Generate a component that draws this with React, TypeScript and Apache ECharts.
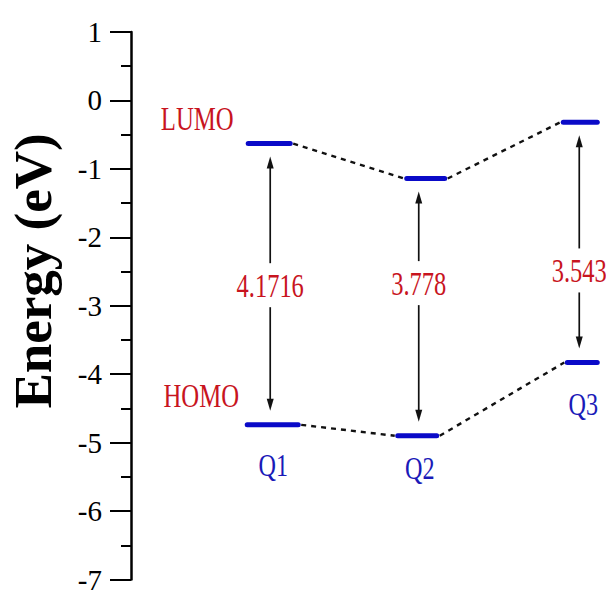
import React, { useEffect, useRef } from "react";
import * as echarts from "echarts";

// ---- data ----
const molecules = ["Q1", "Q2", "Q3"];
const lumoEnergies = [-0.63, -1.14, -0.32];
const homoEnergies = [-4.74, -4.9, -3.83];
const gapLabels = ["4.1716", "3.778", "3.543"];
const levelNames = ["LUMO", "HOMO"];
const yTicks = { min: -7, max: 1, interval: 1 };

// ---- layout (px offsets relative to each molecule's axis position) ----
const lumoSpan = [[-20, 22], [-16, 22], [-14, 20]];
const homoSpan = [[-21, 30], [-25, 14], [-10, 20]];
const arrowDx = [2, -4, 2];
const gapLabelDy = [1, -24, 28];
const nameDx = [5, -3, 6];
const nameDy = [41, 33, 42];

const RED = "#c8141e";
const BLUE = "#0a0ac8";
const LABEL_BLUE = "#1a1ab8";
const SERIF = '"Liberation Serif", "Times New Roman", serif';

export default function App() {
  const ref = useRef<HTMLDivElement>(null);

  useEffect(() => {
    const chart = echarts.init(ref.current!, null, { renderer: "svg" });

    const seriesData = molecules.map((_, i) => [i + 1, lumoEnergies[i], homoEnergies[i]]);

    const renderItem = (params: any, api: any) => {
      const i = params.dataIndex;
      const x = api.value(0);
      const lumo = api.value(1);
      const homo = api.value(2);
      const pL = api.coord([x, lumo]);
      const pH = api.coord([x, homo]);
      const cx = pL[0];
      const children: any[] = [];

      // dashed connectors to the next molecule
      if (i < molecules.length - 1) {
        const nL = api.coord([x + 1, lumoEnergies[i + 1]]);
        const nH = api.coord([x + 1, homoEnergies[i + 1]]);
        children.push({
          type: "line",
          shape: { x1: cx + lumoSpan[i][1] + 3, y1: pL[1], x2: nL[0] + lumoSpan[i + 1][0] - 3, y2: nL[1] },
          style: { stroke: "#111", lineWidth: 2.4, lineDash: [5, 5] },
        });
        children.push({
          type: "line",
          shape: { x1: cx + homoSpan[i][1] + 3, y1: pH[1], x2: nH[0] + homoSpan[i + 1][0] - 3, y2: nH[1] },
          style: { stroke: "#111", lineWidth: 2.4, lineDash: [5, 5] },
        });
      }

      // energy levels
      children.push({
        type: "line",
        shape: { x1: cx + lumoSpan[i][0], y1: pL[1], x2: cx + lumoSpan[i][1], y2: pL[1] },
        style: { stroke: BLUE, lineWidth: 5, lineCap: "round" },
      });
      children.push({
        type: "line",
        shape: { x1: cx + homoSpan[i][0], y1: pH[1], x2: cx + homoSpan[i][1], y2: pH[1] },
        style: { stroke: BLUE, lineWidth: 5, lineCap: "round" },
      });

      // gap arrow
      const ax = cx + arrowDx[i];
      const top = pL[1] + 13;
      const bottom = pH[1] - 14;
      const ly = (pL[1] + pH[1]) / 2 + gapLabelDy[i];
      const head = 12;
      const hw = 3.5;
      children.push({
        type: "line",
        shape: { x1: ax, y1: top + head - 2, x2: ax, y2: ly - 22 },
        style: { stroke: "#111", lineWidth: 1.7 },
      });
      children.push({
        type: "line",
        shape: { x1: ax, y1: ly + 22, x2: ax, y2: bottom - head + 2 },
        style: { stroke: "#111", lineWidth: 1.7 },
      });
      children.push({
        type: "polygon",
        shape: { points: [[ax, top], [ax - hw, top + head], [ax + hw, top + head]] },
        style: { fill: "#111" },
      });
      children.push({
        type: "polygon",
        shape: { points: [[ax, bottom], [ax - hw, bottom - head], [ax + hw, bottom - head]] },
        style: { fill: "#111" },
      });
      children.push({
        type: "text",
        x: ax,
        y: ly,
        scaleX: 0.72,
        style: {
          text: gapLabels[i],
          fill: RED,
          font: `34px ${SERIF}`,
          textAlign: "center",
          textVerticalAlign: "middle",
        },
      });

      // molecule name
      children.push({
        type: "text",
        x: cx + nameDx[i],
        y: pH[1] + nameDy[i],
        scaleX: 0.78,
        style: {
          text: molecules[i],
          fill: LABEL_BLUE,
          font: `31px ${SERIF}`,
          textAlign: "center",
          textVerticalAlign: "middle",
        },
      });

      // LUMO / HOMO labels beside the first molecule
      if (i === 0) {
        children.push({
          type: "text",
          x: cx - 71,
          y: pL[1] - 25,
          scaleX: 0.75,
          style: { text: levelNames[0], fill: RED, font: `33px ${SERIF}`, textAlign: "center", textVerticalAlign: "middle" },
        });
        children.push({
          type: "text",
          x: cx - 67,
          y: pH[1] - 29,
          scaleX: 0.75,
          style: { text: levelNames[1], fill: RED, font: `33px ${SERIF}`, textAlign: "center", textVerticalAlign: "middle" },
        });
      }

      return { type: "group", children };
    };

    chart.setOption({
      animation: false,
      backgroundColor: "#fff",
      grid: { left: 131, right: 0, top: 32, bottom: 8, containLabel: false },
      xAxis: { type: "value", min: 0.112, max: 3.186, show: false },
      yAxis: {
        type: "value",
        min: yTicks.min,
        max: yTicks.max,
        interval: yTicks.interval,
        axisLine: { show: true, lineStyle: { color: "#000", width: 2.5 } },
        axisTick: { show: true, length: 21, lineStyle: { color: "#000", width: 2 } },
        minorTick: { show: true, splitNumber: 2, length: 10, lineStyle: { color: "#000", width: 2 } },
        splitLine: { show: false },
        axisLabel: { color: "#000", fontFamily: "Liberation Serif", fontSize: 29, margin: 29 },
      },
      graphic: [
        {
          type: "text",
          x: 33,
          y: 271,
          rotation: Math.PI / 2,
          style: {
            text: "Energy (eV)",
            fill: "#000",
            font: `bold 53px ${SERIF}`,
            textAlign: "center",
            textVerticalAlign: "middle",
          },
        },
      ],
      series: [
        {
          type: "custom",
          renderItem,
          data: seriesData,
          encode: { x: 0, y: [1, 2] },
          clip: false,
          silent: true,
        },
      ],
    });

    return () => chart.dispose();
  }, []);

  return <div ref={ref} style={{ width: 606, height: 594, position: "absolute", left: 0, top: 0 }} />;
}
